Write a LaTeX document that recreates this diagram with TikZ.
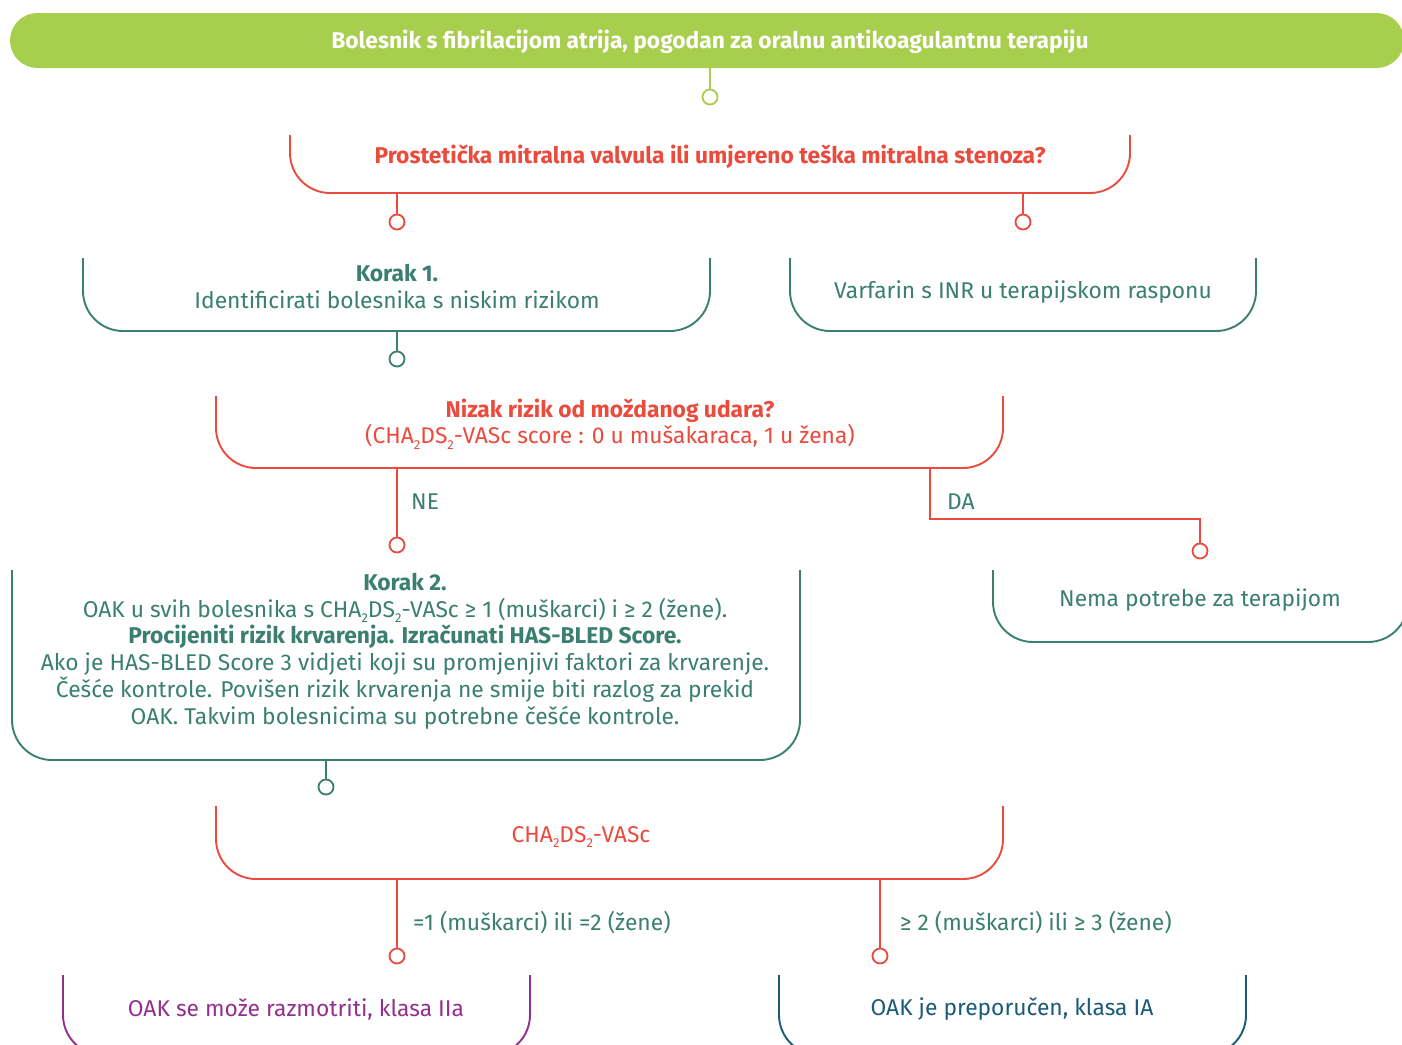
\documentclass[tikz,border=0pt]{standalone}
\usepackage{fontspec}
\setmainfont{Fira Sans}
\definecolor{cgreen}{HTML}{A7CE4D}
\definecolor{cred}{HTML}{EA4B3D}
\definecolor{cteal}{HTML}{3A7F70}
\definecolor{cpurple}{HTML}{93308F}
\definecolor{cblue}{HTML}{1B5A78}
\newcommand{\subtwo}{\raisebox{-0.45ex}{\fontsize{13}{13}\selectfont 2}}
\begin{document}
\begin{tikzpicture}[x=1pt,y=-1pt,
  ubox/.style={line width=1.9pt, rounded corners=40pt},
  conn/.style={line width=1.9pt},
  dot/.style={circle, draw=#1, fill=white, line width=1.8pt, minimum size=15pt, inner sep=0pt},
  txt/.style={font=\fontsize{22.8}{26.8}\selectfont, align=center, inner sep=0pt, yshift=-2pt},
  btxt/.style={font=\fontsize{22.8}{26.8}\selectfont\bfseries, align=center, inner sep=0pt, yshift=-2pt}]
\clip (0,0) rectangle (1402,1044);
\fill[white] (0,0) rectangle (1402,1044);

% top bar
\fill[cgreen, rounded corners=27.5pt] (10,13) rectangle (1404,68);
\node[btxt, white] (t0) at (710,40) {Bolesnik s fibrilacijom atrija, pogodan za oralnu antikoagulantnu terapiju};
\coordinate (barS) at (710,68);
\node[dot=cgreen] (d0) at (710,97) {};
\draw[conn, cgreen] (barS) -- (d0);

% question 1
\draw[ubox, cred] (290,135) -- (290,193) -- (1130,193) -- (1130,135);
\node[btxt, cred] (t1) at (710,155) {Prostetička mitralna valvula ili umjereno teška mitralna stenoza?};
\coordinate (q1a) at (397,193);
\coordinate (q1b) at (1023,193);
\node[dot=cred] (d1a) at (397,222) {};
\node[dot=cred] (d1b) at (1023,222) {};
\draw[conn, cred] (q1a) -- (d1a);
\draw[conn, cred] (q1b) -- (d1b);

% korak 1
\draw[ubox, cteal] (83,258) -- (83,331) -- (710,331) -- (710,258);
\node[txt, cteal] (t2) at (397,284.5) {\textbf{Korak 1.}\\Identificirati bolesnika s niskim rizikom};
\coordinate (k1s) at (397,331);
\node[dot=cteal] (d2) at (397,359) {};
\draw[conn, cteal] (k1s) -- (d2);

% varfarin
\draw[ubox, cteal] (790,258) -- (790,331) -- (1256,331) -- (1256,258);
\node[txt, cteal] (t3) at (1023,290) {Varfarin s INR u terapijskom rasponu};

% question 2
\draw[ubox, cred] (216,396) -- (216,468) -- (1003,468) -- (1003,396);
\node[txt, cred] (t4) at (610,422) {\textbf{Nizak rizik od moždanog udara?}\\(CHA\subtwo DS\subtwo-VASc score : 0 u mušakaraca, 1 u žena)};
\coordinate (q2a) at (397,468);
\coordinate (q2b) at (930,468);
\node[dot=cred] (d4a) at (397,545) {};
\node[dot=cred] (d4b) at (1200,551) {};
\draw[conn, cred] (q2a) -- (d4a);
\draw[conn, cred] (q2b) |- (1200,519) -- (d4b);
\node[txt, cteal, anchor=west] (lne) at (411,500) {NE};
\node[txt, cteal, anchor=west] (lda) at (947,500) {DA};

% korak 2
\draw[ubox, cteal] (12,570) -- (12,760) -- (800,760) -- (800,570);
\node[txt, cteal] (t5) at (405,649) {\textbf{Korak 2.}\\
OAK u svih bolesnika s CHA\subtwo DS\subtwo-VASc ≥ 1 (muškarci) i ≥ 2 (žene).\\
\textbf{Procijeniti rizik krvarenja. Izračunati HAS-BLED Score.}\\
Ako je HAS-BLED Score 3 vidjeti koji su promjenjivi faktori za krvarenje.\\
Češće kontrole. Povišen rizik krvarenja ne smije biti razlog za prekid\\
OAK. Takvim bolesnicima su potrebne češće kontrole.};
\coordinate (k2s) at (326,760);
\node[dot=cteal] (d5) at (326,787) {};
\draw[conn, cteal] (k2s) -- (d5);

% nema potrebe
\draw[ubox, cteal] (993,570) -- (993,642) -- (1408,642) -- (1408,570);
\node[txt, cteal] (t6) at (1200,598) {Nema potrebe za terapijom};

% cha2ds2-vasc
\draw[ubox, cred] (216,806) -- (216,879) -- (1003,879) -- (1003,806);
\node[txt, cred] (t7) at (581,835) {CHA\subtwo DS\subtwo-VASc};
\coordinate (q3a) at (397,879);
\coordinate (q3b) at (880,879);
\node[dot=cred] (d7a) at (397,956) {};
\node[dot=cred] (d7b) at (880,956) {};
\draw[conn, cred] (q3a) -- (d7a);
\draw[conn, cred] (q3b) -- (d7b);
\node[txt, cteal, anchor=west] (l7a) at (413,921) {=1 (muškarci) ili =2 (žene)};
\node[txt, cteal, anchor=west] (l7b) at (900,921) {≥ 2 (muškarci) ili ≥ 3 (žene)};

% results
\draw[ubox, cpurple] (63,975) -- (63,1055) -- (530,1055) -- (530,975);
\node[txt, cpurple] (t8) at (296,1007) {OAK se može razmotriti, klasa IIa};
\draw[ubox, cblue] (779,975) -- (779,1055) -- (1246,1055) -- (1246,975);
\node[txt, cblue] (t9) at (1012,1007) {OAK je preporučen, klasa IA};
\end{tikzpicture}
\end{document}
